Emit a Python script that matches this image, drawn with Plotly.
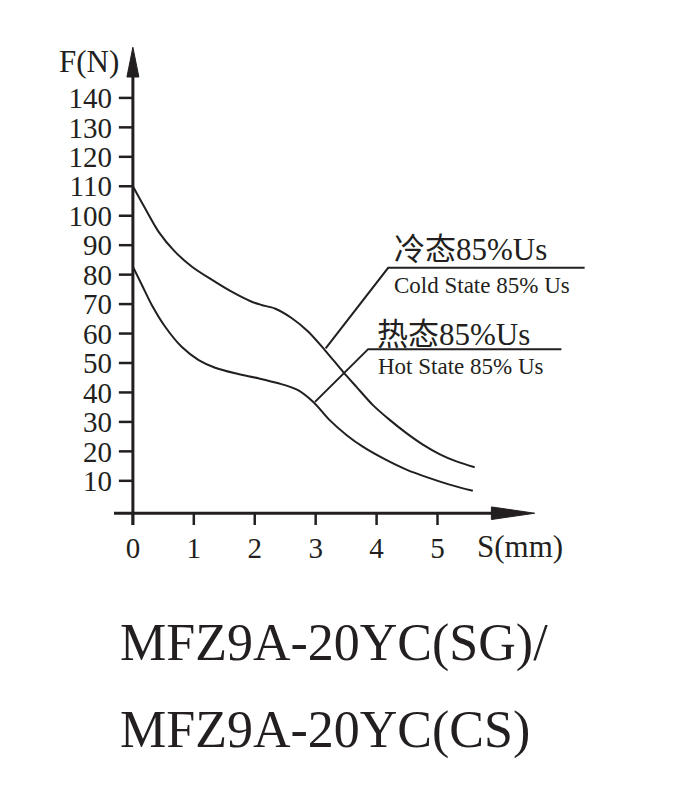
import plotly.graph_objects as go

# ---------------- data ----------------
cold_x = [0, 0.2, 0.42, 0.69, 0.97, 1.3, 1.62, 1.95, 2.11, 2.33, 2.61, 2.88, 3.15,
          3.45, 3.67, 3.94, 4.22, 4.49, 4.76, 5.04, 5.31, 5.61]
cold_y = [110, 102.5, 94.6, 87.8, 82.7, 78.2, 74.2, 70.8, 69.7, 68.5, 65.2, 60.6, 54.4,
          47.0, 41.9, 35.7, 30.6, 26.2, 22.3, 19.0, 16.6, 14.6]

hot_x = [0, 0.15, 0.31, 0.53, 0.80, 1.08, 1.35, 1.68, 2.06, 2.39, 2.71, 2.97, 3.23,
         3.51, 3.78, 4.11, 4.49, 4.87, 5.20, 5.58]
hot_y = [82.7, 76.4, 69.7, 62.3, 55.5, 51.0, 48.4, 46.5, 44.8, 43.1, 40.8, 36.6, 30.6,
         25.5, 21.5, 17.6, 13.8, 10.9, 8.7, 6.6]

y_ticks = [10, 20, 30, 40, 50, 60, 70, 80, 90, 100, 110, 120, 130, 140]
x_ticks = [0, 1, 2, 3, 4, 5]

cold_cn = "冷态85%Us"
cold_en = "Cold State 85% Us"
hot_cn = "热态85%Us"
hot_en = "Hot State 85% Us"
title_1 = "MFZ9A-20YC(SG)/"
title_2 = "MFZ9A-20YC(CS)"

# ---------------- layout geometry ----------------
OFF = 8  # page body margin
W, H = 673 - OFF, 800 - OFF
X_RANGE = [-0.31, 7.7]
Y_RANGE = [-5, 160]
ML, MT = 113.8 - OFF, 39.1 - OFF
MR = W - (602.4 - OFF)
MB = H - (524.8 - OFF)
pw = W - ML - MR
ph = H - MT - MB

def px_paper_x(px):
    return (px - OFF - ML) / pw

def px_paper_y(py):
    return (H - MB - (py - OFF)) / ph

INK = "#231f20"
FONT = "Liberation Serif, Noto Sans CJK SC, serif"

fig = go.Figure()

fig.add_trace(go.Scatter(x=cold_x, y=cold_y, mode="lines",
                         line=dict(color=INK, width=2, shape="spline", smoothing=0.8),
                         hoverinfo="skip", showlegend=False))
fig.add_trace(go.Scatter(x=hot_x, y=hot_y, mode="lines",
                         line=dict(color=INK, width=2, shape="spline", smoothing=0.8),
                         hoverinfo="skip", showlegend=False))

shapes = []
# axes
shapes.append(dict(type="line", xref="x", yref="y", x0=0, x1=0, y0=-5, y1=148,
                   line=dict(color=INK, width=3)))
shapes.append(dict(type="line", xref="x", yref="y", x0=-0.31, x1=6.0, y0=-1, y1=-1,
                   line=dict(color=INK, width=3)))
# arrow heads
shapes.append(dict(type="path", xref="x", yref="y",
                   path="M -0.098 147.1 L 0 157.2 L 0.098 147.1 Z",
                   fillcolor=INK, line=dict(color=INK, width=1)))
shapes.append(dict(type="path", xref="x", yref="y",
                   path="M 5.885 1.14 L 6.595 -1 L 5.885 -3.14 Z",
                   fillcolor=INK, line=dict(color=INK, width=1)))
# ticks
for v in y_ticks:
    shapes.append(dict(type="line", xref="x", yref="y", x0=-0.23, x1=0, y0=v, y1=v,
                       line=dict(color=INK, width=2.5)))
for v in x_ticks:
    shapes.append(dict(type="line", xref="x", yref="y", x0=v, x1=v, y0=-1, y1=-5,
                       line=dict(color=INK, width=2.5)))
# leader lines
shapes.append(dict(type="path", xref="x", yref="y",
                   path="M 3.164 54.96 L 4.19 82.3 L 7.415 82.3",
                   line=dict(color=INK, width=2)))
shapes.append(dict(type="path", xref="x", yref="y",
                   path="M 2.989 36.8 L 3.862 54.7 L 7.033 54.7",
                   line=dict(color=INK, width=2)))

annotations = [
    dict(text=cold_cn, x=4.26, y=88.5, xref="x", yref="y", xanchor="left", yanchor="middle",
         showarrow=False, font=dict(family=FONT, size=31, color=INK)),
    dict(text=cold_en, x=4.26, y=76.2, xref="x", yref="y", xanchor="left", yanchor="middle",
         showarrow=False, font=dict(family=FONT, size=23, color=INK)),
    dict(text=hot_cn, x=3.98, y=59.6, xref="x", yref="y", xanchor="left", yanchor="middle",
         showarrow=False, font=dict(family=FONT, size=31, color=INK)),
    dict(text=hot_en, x=3.99, y=48.8, xref="x", yref="y", xanchor="left", yanchor="middle",
         showarrow=False, font=dict(family=FONT, size=23, color=INK)),
    dict(text="F(N)", x=px_paper_x(89), y=px_paper_y(62), xref="paper", yref="paper",
         xanchor="center", yanchor="middle", showarrow=False,
         font=dict(family=FONT, size=31, color=INK)),
    dict(text="S(mm)", x=px_paper_x(520), y=px_paper_y(546), xref="paper", yref="paper",
         xanchor="center", yanchor="middle", showarrow=False,
         font=dict(family=FONT, size=31, color=INK)),
    dict(text=title_1, x=px_paper_x(118), y=px_paper_y(643), xref="paper", yref="paper",
         xanchor="left", yanchor="middle", showarrow=False,
         font=dict(family=FONT, size=52, color=INK)),
    dict(text=title_2, x=px_paper_x(118), y=px_paper_y(730), xref="paper", yref="paper",
         xanchor="left", yanchor="middle", showarrow=False,
         font=dict(family=FONT, size=52, color=INK)),
]

fig.update_layout(
    width=W, height=H,
    margin=dict(l=ML, r=MR, t=MT, b=MB, pad=0),
    paper_bgcolor="white", plot_bgcolor="white",
    shapes=shapes, annotations=annotations,
    xaxis=dict(range=X_RANGE, showgrid=False, zeroline=False, showline=False,
               tickmode="array", tickvals=x_ticks, ticktext=[str(v) for v in x_ticks],
               ticks="", ticklabelstandoff=3,
               tickfont=dict(family=FONT, size=29, color=INK), fixedrange=True),
    yaxis=dict(range=Y_RANGE, showgrid=False, zeroline=False, showline=False,
               tickmode="array", tickvals=y_ticks, ticktext=[str(v) for v in y_ticks],
               ticks="", ticklabelstandoff=1,
               tickfont=dict(family=FONT, size=29, color=INK), fixedrange=True),
    showlegend=False,
)

fig.write_html("out.html")
